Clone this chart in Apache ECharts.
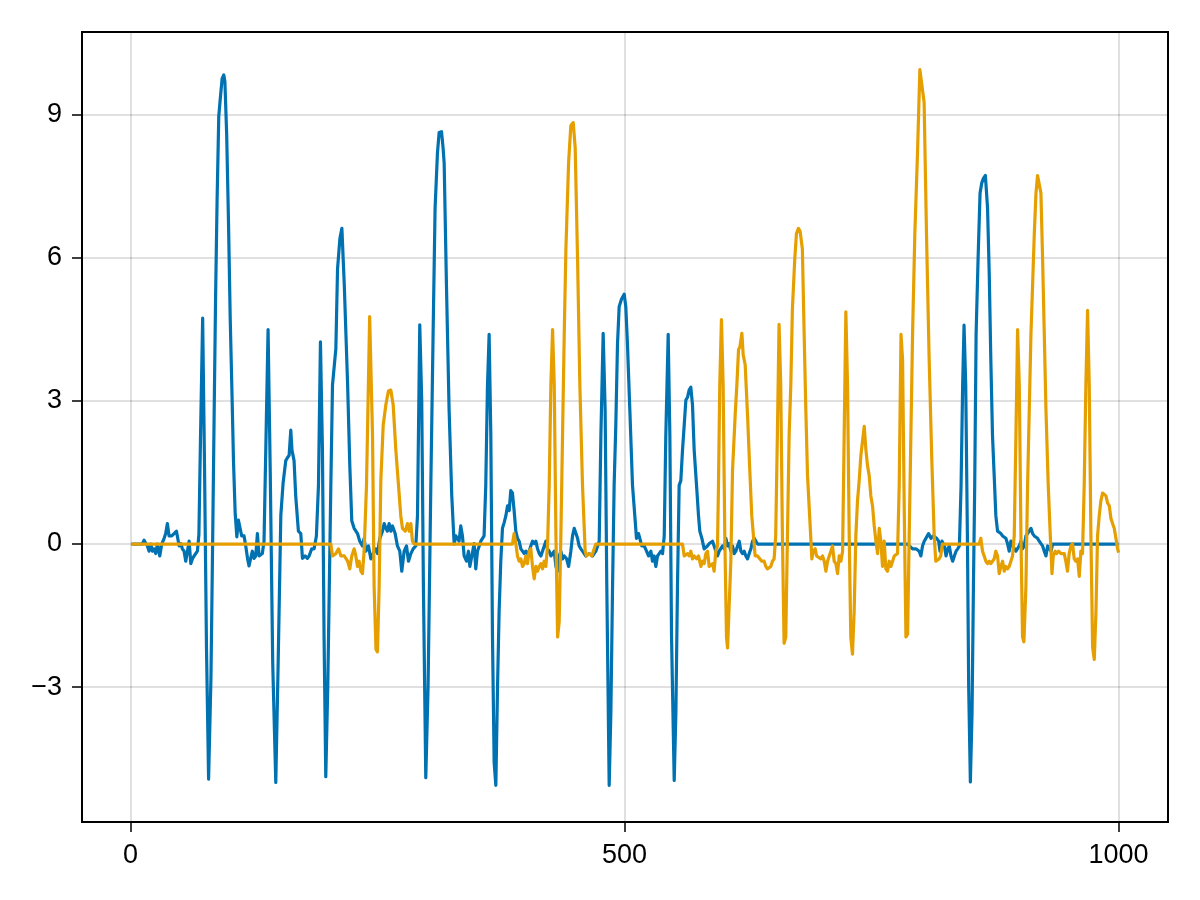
<!DOCTYPE html>
<html>
<head>
<meta charset="utf-8">
<script src="https://cdn.jsdelivr.net/npm/echarts@6/dist/echarts.min.js"></script>
<style>html,body{margin:0;padding:0;background:#fff}#c{width:1200px;height:900px}</style>
</head>
<body>
<div id="c"></div>
<script>
const xTicks = [0, 500, 1000];
const yTicks = [-3, 0, 3, 6, 9];

const blue = [[1,0],[12,0],[13.8,0.08],[17.2,-0.04],[18.9,-0.15],[20.6,0.0],[22.3,-0.15],[23.9,-0.1],[25.6,-0.2],[27.3,0.0],[29.7,-0.25],[31.7,0.0],[34.1,0.12],[35.7,0.22],[37.4,0.43],[39.1,0.17],[41.8,0.17],[44.2,0.22],[46.6,0.27],[49.3,-0.04],[50.9,0.01],[52.6,-0.1],[54.3,-0.15],[56.0,-0.36],[57.7,-0.15],[59.4,0.06],[61.1,-0.41],[62.8,-0.31],[64.4,-0.25],[66.1,-0.25],[67.8,-0.15],[69.3,0.2],[70.9,2.2],[73.1,4.74],[75,1.6],[77,-2.2],[79.1,-4.93],[81.5,-2.8],[83.3,0.2],[85,3.2],[86.2,5.2],[87.7,7.2],[89.4,8.97],[91,9.36],[92.8,9.76],[94.5,9.84],[95.6,9.7],[97.4,8.6],[99.3,6.7],[101,4.72],[102.7,3.23],[104.3,1.74],[106,0.65],[107.7,0.15],[109.3,0.5],[110.6,0.54],[112.6,0.17],[115,0.17],[116.7,-0.04],[118.5,-0.3],[120,-0.46],[121.7,-0.3],[123.4,-0.15],[125.1,-0.3],[126.8,-0.25],[128.5,0.22],[130.2,-0.25],[131.9,-0.25],[133.5,-0.2],[135.2,0.06],[137,2.0],[139.3,4.5],[141.5,1.5],[144,-2.5],[147.1,-5.0],[149.5,-2.5],[152.2,0.6],[154.5,1.28],[157.2,1.75],[158.9,1.81],[160.6,1.86],[162.3,2.39],[163.5,1.97],[165.6,1.75],[167.3,1.0],[170,0.27],[172.4,0.22],[174.1,-0.3],[176.8,-0.25],[179.1,-0.3],[180.8,-0.25],[183.5,-0.1],[185.9,-0.1],[188.2,0.17],[190.3,1.23],[192.3,4.24],[194.3,2.0],[196,-2.0],[197.7,-4.88],[199.7,-3.0],[202.8,1.2],[204.5,3.34],[207.9,4.1],[209.6,5.77],[212,6.41],[214,6.62],[216.4,5.45],[219.8,3.34],[222,1.65],[224,0.49],[226.4,0.33],[229.8,0.22],[232.1,0.06],[234.8,-0.04],[236.5,0.12],[238.2,-0.15],[240.9,-0.04],[243.3,-0.31],[245.6,-0.2],[248.3,-0.1],[250,-0.2],[252.4,0.12],[255.1,0.27],[256.8,0.43],[258.5,0.33],[260.1,0.27],[261.8,0.43],[263.5,0.27],[265.2,0.38],[267.9,0.22],[270.2,-0.04],[272.6,-0.15],[274.6,-0.57],[277,-0.15],[279.4,-0.04],[281.4,-0.36],[283.8,-0.2],[286.1,-0.1],[288.8,-0.04],[290.5,0.59],[292.8,4.6],[294.8,3.0],[296.5,-0.89],[298.9,-4.9],[301.2,-3.0],[304,1.23],[306.3,4.4],[308.3,7.04],[310.7,8.2],[312.4,8.63],[314.8,8.65],[316.4,8.31],[317.5,7.99],[319.8,5.45],[322.5,2.81],[325.2,1.01],[327.6,0.0],[329.3,0.17],[330.9,0.17],[332.6,0.06],[334.3,0.38],[336,0.17],[337.7,-0.25],[340.1,-0.36],[342.1,-0.15],[343.5,-0.47],[345.5,-0.25],[347.8,0.01],[349.5,-0.52],[351.2,-0.15],[352.9,-0.15],[354.6,0.06],[356.3,0.06],[357.9,0.17],[359.6,1.23],[361.3,3.3],[363,4.4],[364.7,2.3],[366.4,-1.95],[368.1,-4.59],[369.8,-5.06],[371.5,-3.0],[373.1,-1.42],[374.8,-0.36],[376.5,0.33],[378.2,0.45],[379.9,0.59],[381.6,0.8],[383.3,0.7],[384.9,1.12],[386.6,1.07],[388.3,0.7],[390,0.27],[391.7,0.12],[393.4,0.06],[395.1,-0.1],[396.8,-0.15],[398.5,-0.2],[400.1,-0.15],[401.8,-0.2],[403.5,-0.15],[405.2,-0.04],[406.9,0.06],[408.6,0.01],[410.3,0.06],[412,-0.1],[413.7,-0.2],[415.4,-0.25],[417,-0.15],[420.4,0.06],[422.1,-0.1],[423.8,-0.15],[425.5,-0.25],[427.2,-0.2],[428.9,-0.15],[430.6,-0.47],[432.3,-0.57],[433.9,-0.25],[435.6,-0.15],[437.3,-0.31],[439,-0.25],[441.4,-0.31],[443.4,-0.47],[445.7,-0.15],[447.4,0.17],[449.1,0.33],[450.8,0.33],[452.5,0.12],[454.1,-0.04],[455.8,-0.1],[457.5,-0.15],[459.2,-0.2],[460.9,-0.25],[464.2,-0.2],[467.6,-0.25],[471,-0.15],[472.7,-0.15],[474.4,0.06],[476.1,2.28],[478.4,4.42],[480.4,2.81],[482.1,-0.89],[484.5,-5.06],[486.2,-3.53],[487.9,-0.89],[489.5,1.23],[491.2,2.49],[492.9,4.19],[494.6,4.98],[497,5.14],[499.7,5.24],[501.3,4.98],[503,4.19],[505.4,2.81],[508.1,1.23],[510.8,0.49],[512.1,0.12],[514.2,0.22],[515.5,0.22],[517.5,-0.04],[519.9,-0.04],[522.3,-0.15],[524.3,-0.25],[526.7,-0.15],[528.3,-0.36],[530,-0.25],[531.7,-0.47],[533.4,-0.25],[535.1,-0.2],[536.8,-0.15],[538.5,-0.2],[540.2,0.17],[541.8,2.28],[544.2,4.4],[545.9,2.28],[547.6,-1.95],[550.3,-4.96],[552,-3.53],[553.6,-0.89],[555.3,1.23],[557,1.33],[558.7,1.97],[560.4,2.49],[562.1,3.02],[563.8,3.08],[565.4,3.23],[567.1,3.29],[568.8,2.92],[570.5,1.97],[572.9,1.23],[574.9,0.59],[576.2,0.27],[578.3,0.12],[580.6,-0.1],[582.3,-0.1],[584,-0.04],[585.7,0.01],[587.4,0.01],[589.1,0.06],[590.7,-0.04],[592.4,-0.15],[594.1,-0.25],[595.8,-0.15],[597.5,-0.15],[599.2,-0.04],[600.9,-0.1],[602.6,0.12],[604.3,-0.04],[605.9,0.01],[607.6,-0.15],[609.3,-0.04],[611,-0.2],[612.7,-0.15],[614.4,-0.04],[616.1,0.06],[617.8,-0.15],[619.4,-0.2],[621.1,-0.15],[622.8,-0.25],[624.5,-0.31],[626.2,-0.2],[627.9,-0.1],[629.6,0.06],[631.3,0.12],[633,0.06],[634.6,0],[786.4,0],[788.1,-0.04],[791.5,-0.1],[794.9,-0.1],[798.2,-0.15],[799.9,-0.25],[801.6,-0.04],[803.3,0.06],[805,0.12],[807.7,0.22],[810.1,0.12],[812.5,0.17],[814.5,0.17],[815.9,0.12],[817.9,0.06],[819.3,-0.15],[821.3,0.06],[823.7,-0.04],[825.4,-0.25],[827.1,-0.1],[828.7,-0.04],[830.4,-0.25],[832.1,-0.36],[833.8,-0.25],[835.5,-0.15],[837.2,-0.1],[838.9,-0.04],[840.6,1.23],[842.2,3.34],[843.6,4.59],[845.3,3.34],[847,0.17],[848.3,-3.0],[850,-4.99],[851.7,-3.53],[853.1,-0.89],[854.4,1.23],[855.8,4.4],[857.8,5.98],[859.8,7.36],[861.5,7.57],[863.2,7.67],[865.2,7.73],[866,7.73],[867.4,7.04],[869.1,5.67],[870.7,3.87],[872.4,2.28],[874.1,1.44],[875.8,0.59],[877.5,0.27],[879.2,0.27],[880.9,0.22],[882.6,0.17],[884.3,0.17],[885.9,0.12],[887.6,0.01],[889.3,-0.15],[891,0.06],[892.7,-0.04],[894.4,-0.04],[896.1,-0.15],[897.8,-0.15],[899.5,-0.04],[901.2,0.06],[902.8,-0.1],[904.5,-0.04],[906.2,0.17],[907.9,0.22],[909.6,0.22],[911.3,0.33],[913,0.22],[914.7,0.17],[916.4,0.17],[918,0.12],[919.7,0.06],[921.4,0.01],[923.1,-0.04],[924.8,-0.15],[926.5,-0.25],[928.2,-0.04],[929.9,-0.1],[931.6,-0.15],[933.3,0],[1000,0]];

const orange = [[1,0],[202.8,0],[204.5,-0.25],[207.9,-0.2],[210.6,-0.1],[213,-0.25],[216.4,-0.25],[219.8,-0.36],[222,-0.52],[224,-0.25],[226.4,-0.1],[228.1,-0.25],[229.8,-0.47],[231.5,-0.36],[233.2,-0.57],[234.8,-0.62],[236.5,-0.15],[238.9,1.23],[242.1,4.77],[245,2.28],[246.6,-0.89],[248.5,-2.21],[250,-2.26],[251.7,-0.89],[253.4,1.33],[255.8,2.49],[258.5,2.92],[261.1,3.21],[263.5,3.23],[265.9,2.92],[268.6,1.97],[271.3,1.23],[273.6,0.59],[275.3,0.33],[278.1,0.27],[280.4,0.43],[282.1,0.27],[283.8,0.43],[285.4,0.06],[287.1,0],[386.6,0],[388.3,0.22],[390,0.01],[391.7,-0.25],[393.4,-0.36],[395.1,-0.31],[396.8,-0.47],[398.5,-0.41],[400.1,-0.25],[401.8,-0.41],[403.5,-0.15],[405.2,-0.1],[406.9,-0.47],[408.6,-0.73],[410.3,-0.47],[412,-0.57],[413.7,-0.47],[415.4,-0.41],[417,-0.52],[418.7,-0.36],[420.4,-0.47],[422.1,-0.04],[423.8,1.23],[425.5,3.34],[427.2,4.5],[428.9,3.34],[430.6,0.17],[432.3,-1.95],[433.9,-1.63],[435.6,0.17],[437.3,2.28],[439,4.4],[440.7,6.19],[443.4,7.99],[445.7,8.78],[448.1,8.84],[450.1,8.31],[452.5,5.98],[454.8,3.34],[457.5,1.23],[460.2,-0.15],[461.5,-0.25],[464.2,-0.2],[466.9,-0.25],[469.3,-0.1],[471,0],[558.7,0],[560.4,-0.25],[563.8,-0.2],[565.4,-0.25],[567.1,-0.15],[568.8,-0.31],[570.5,-0.25],[572.9,-0.31],[574.9,-0.25],[577.3,-0.47],[578.9,-0.36],[580.6,-0.41],[582.3,-0.2],[584,-0.15],[585.7,-0.47],[587.4,-0.47],[589.1,-0.41],[590.7,-0.57],[592.4,-0.15],[594.1,-0.04],[595.1,1.23],[596.4,3.34],[598.1,4.71],[599.8,3.34],[601.5,0.17],[603.2,-1.95],[604.3,-2.18],[605.9,-2.16],[607.6,-0.36],[609.3,1.54],[612,2.71],[613.7,3.34],[615.4,4.08],[616.7,4.13],[618.8,4.42],[620.1,3.97],[622.1,3.76],[624.5,2.71],[626.8,1.54],[628.8,0.59],[630.5,0.17],[632.2,-0.25],[634.6,-0.25],[636.9,-0.31],[638.9,-0.36],[641.3,-0.36],[643,-0.47],[644.6,-0.52],[646.3,-0.52],[648,-0.47],[649.7,-0.36],[651.4,-0.31],[653,0.17],[654.7,2.28],[656.4,4.61],[658.1,3.34],[659.8,0.17],[661.5,-2.08],[663.2,-1.95],[664.9,0.17],[666.6,2.28],[668.3,3.34],[669.9,4.93],[672.3,5.98],[674,6.51],[676,6.62],[677.7,6.56],[680,6.19],[681.8,4.4],[683.5,2.81],[685.2,1.44],[687.6,0.49],[689.6,-0.31],[691,-0.15],[693,-0.1],[694.4,-0.25],[696.4,-0.25],[698.7,-0.31],[700.4,-0.25],[702.1,-0.36],[703.8,-0.57],[705.5,-0.36],[707.2,-0.25],[708.8,-0.15],[710.5,-0.04],[712.2,-0.36],[713.9,-0.41],[715.6,-0.62],[717.3,-0.25],[719,-0.36],[720.7,-0.15],[722.3,2.28],[724,4.87],[725.7,3.34],[727.4,0.17],[729,-1.95],[730.7,-2.31],[732.4,-1.42],[734.1,0.17],[735.8,0.91],[737.5,1.33],[739.2,1.86],[740.9,1.86],[742.6,2.47],[744.3,1.97],[745.9,1.65],[747.6,1.44],[749.3,1.01],[751,0.8],[752.7,0.38],[754.4,0.06],[756.1,-0.2],[757.8,0.33],[759.4,0.06],[761.1,-0.47],[762.8,0.06],[764.5,-0.52],[766.2,-0.57],[767.9,-0.36],[769.6,-0.47],[771.3,-0.36],[773,-0.25],[774.6,-0.25],[776.3,-0.2],[778,1.23],[779.8,4.4],[781.4,3.87],[783.1,0.69],[784.8,-1.95],[786.5,-1.89],[788.1,0.17],[789.8,2.28],[791.5,4.4],[793.8,6.51],[796.5,8.2],[798.9,9.95],[800.9,9.95],[803.2,9.26],[805.6,6.51],[808.3,3.87],[811,1.75],[813.4,0.17],[815,-0.36],[816.7,-0.36],[818.4,-0.31],[820,-0.25],[821.7,0],[858.9,0],[860.6,0.12],[862.3,-0.15],[864,-0.25],[865.7,-0.36],[867.4,-0.41],[869.1,-0.36],[870.7,-0.41],[872.4,-0.36],[874.1,-0.31],[875.8,-0.15],[877.5,-0.25],[879.2,-0.62],[880.9,-0.47],[882.6,-0.36],[884.3,-0.57],[885.9,-0.47],[887.6,-0.52],[889.3,-0.47],[891,-0.36],[892.7,-0.25],[894.4,0.17],[896.1,2.28],[897.8,4.5],[899.5,3.34],[901.2,0.17],[902.8,-1.95],[904.2,-2.05],[906.2,-0.89],[907.9,1.23],[909.6,2.81],[911.3,4.4],[913,5.45],[914.7,6.51],[916.4,7.36],[918,7.73],[919.7,7.73],[921.4,7.36],[923.1,5.98],[924.8,4.4],[926.5,2.81],[928.8,1.23],[930.9,0.17],[932.6,-0.62],[933.9,-0.25],[935.9,-0.15],[937.2,-0.2],[939.3,-0.15],[941.6,-0.2],[943.3,-0.2],[945,-0.2],[946.6,-0.36],[948.3,-0.57],[950,-0.2],[951.7,-0.04],[953.4,0.01],[955.1,-0.31],[956.8,-0.36],[958.5,-0.31],[960.2,-0.68],[961.8,-0.15],[963.5,-0.2],[965.2,1.23],[966.9,3.34],[968.6,4.9],[970.3,3.34],[972,0.17],[973.7,-2.16],[975.4,-2.42],[977.1,-1.42],[978.7,0.17],[980.4,0.59],[982.1,0.91],[983.8,1.07],[985.5,1.07],[987.2,1.01],[988.9,0.86],[990.6,0.8],[992.2,0.54],[993.9,0.43],[995.6,0.33],[997.3,0.12],[999,-0.1],[1000,-0.18]];

const FONT = '"Liberation Sans", Arial, Helvetica, sans-serif';
const minusFmt = v => String(v).replace('-', '\u2212');

const chart = echarts.init(document.getElementById('c'), null, { renderer: 'canvas' });
chart.setOption({
  animation: false,
  backgroundColor: '#fff',
  grid: { left: 82, right: 32, top: 32, bottom: 78, show: true, borderColor: '#000', borderWidth: 2, backgroundColor: 'transparent' },
  xAxis: {
    type: 'value', min: -49, max: 1050,
    axisLine: { show: false, onZero: false },
    axisTick: { show: true, customValues: xTicks, length: 10, lineStyle: { color: '#000', width: 1.5 } },
    axisLabel: { customValues: xTicks, fontSize: 27, color: '#000', fontFamily: FONT, margin: 20, formatter: minusFmt },
    splitLine: { show: true, lineStyle: { color: 'rgba(0,0,0,0.12)', width: 2 } }
  },
  yAxis: {
    type: 'value', min: -5.83, max: 10.74,
    axisLine: { show: false, onZero: false },
    axisTick: { show: true, customValues: yTicks, length: 10, lineStyle: { color: '#000', width: 1.5 } },
    axisLabel: { customValues: yTicks, fontSize: 27, color: '#000', fontFamily: FONT, margin: 20, formatter: minusFmt },
    splitLine: { show: true, lineStyle: { color: 'rgba(0,0,0,0.12)', width: 2 } }
  },
  series: [
    { type: 'line', data: blue, showSymbol: false, symbol: 'none', z: 2,
      lineStyle: { color: 'rgb(0,114,178)', width: 3.2, join: 'round' }, itemStyle: { color: 'rgb(0,114,178)' } },
    { type: 'line', data: orange, showSymbol: false, symbol: 'none', z: 3,
      lineStyle: { color: 'rgb(230,159,0)', width: 3.2, join: 'round' }, itemStyle: { color: 'rgb(230,159,0)' } }
  ]
});
</script>
</body>
</html>
